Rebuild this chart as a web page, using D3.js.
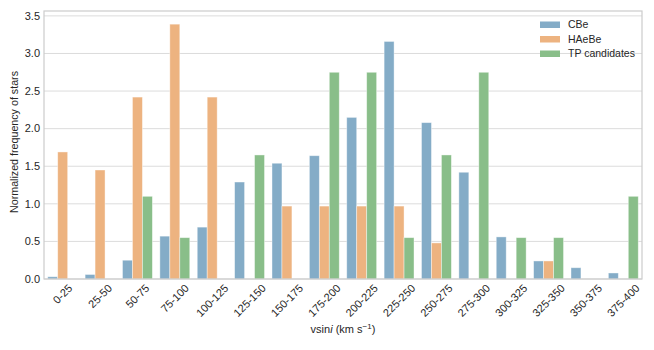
<!DOCTYPE html>
<html lang="en">
<head>
    <meta charset="UTF-8">
    <title>vsini distribution</title>
    <style>
        body { margin: 0; background: #fff; }
        text { font-family: "Liberation Sans", Arial, sans-serif; fill: #262626; }
    </style>
</head>
<body>

    <svg id="svg" width="654" height="350"></svg>

    <script src="https://d3js.org/d3.v7.min.js"></script>
    <script>
        const bins = ['0-25', '25-50', '50-75', '75-100', '100-125', '125-150', '150-175', '175-200',
            '200-225', '225-250', '250-275', '275-300', '300-325', '325-350', '350-375', '375-400']
        const seriesNames = ['CBe', 'HAeBe', 'TP candidates']
        const cbe = [0.03, 0.06, 0.25, 0.57, 0.69, 1.29, 1.54, 1.64, 2.15, 3.16, 2.08, 1.42, 0.56, 0.24, 0.15, 0.08]
        const haebe = [1.69, 1.45, 2.42, 3.39, 2.42, 0, 0.97, 0.97, 0.97, 0.97, 0.48, 0, 0, 0.24, 0, 0]
        const tp = [0, 0, 1.10, 0.55, 0, 1.65, 0, 2.75, 2.75, 0.55, 1.65, 2.75, 0.55, 0.55, 0, 1.10]
        const yTicks = [0, 0.5, 1.0, 1.5, 2.0, 2.5, 3.0, 3.5]

        const values = [cbe, haebe, tp]
        const colors = ['#84acc7', '#edb380', '#89be89']

        const plotL = 44, plotR = 642, plotT = 11, plotB = 279
        const svg = d3.select('#svg')

        const xScale = d3.scaleBand()
            .domain(bins)
            .range([plotL, plotR])
            .paddingInner(0.2)
            .paddingOuter(0.1)

        const xSub = d3.scaleBand()
            .domain(seriesNames)
            .range([0, xScale.bandwidth()])

        const yScale = d3.scaleLinear()
            .domain([0, 3.565])
            .range([plotB, plotT])

        // grid
        svg.append('g')
            .selectAll('line')
            .data(yTicks)
            .enter()
            .append('line')
            .attr('x1', plotL)
            .attr('x2', plotR)
            .attr('y1', d => yScale(d))
            .attr('y2', d => yScale(d))
            .attr('stroke', '#dcdcdc')
            .attr('stroke-width', 1)

        // bars
        const rows = bins.map((b, i) => seriesNames.map((s, j) => ({ bin: b, series: s, value: values[j][i], color: colors[j] })))
        svg.append('g')
            .selectAll('g')
            .data(rows)
            .enter()
            .append('g')
            .attr('transform', d => `translate(${xScale(d[0].bin)},0)`)
            .selectAll('rect')
            .data(d => d.filter(e => e.value > 0))
            .enter()
            .append('rect')
            .attr('x', d => xSub(d.series))
            .attr('width', xSub.bandwidth())
            .attr('y', d => yScale(d.value))
            .attr('height', d => yScale(0) - yScale(d.value))
            .attr('fill', d => d.color)
            .attr('stroke', 'rgba(255,255,255,0.5)')
            .attr('stroke-width', 0.8)

        // frame
        svg.append('rect')
            .attr('x', plotL)
            .attr('y', plotT)
            .attr('width', plotR - plotL)
            .attr('height', plotB - plotT)
            .attr('fill', 'none')
            .attr('stroke', '#cccccc')
            .attr('stroke-width', 1.2)

        // y axis labels
        svg.append('g')
            .selectAll('text')
            .data(yTicks)
            .enter()
            .append('text')
            .attr('x', 40)
            .attr('y', d => yScale(d))
            .attr('dy', '0.35em')
            .attr('text-anchor', 'end')
            .attr('font-size', 11)
            .text(d => d.toFixed(1))

        // x tick labels, rotated 45 around centre
        const xt = svg.append('g')
            .selectAll('text')
            .data(bins)
            .enter()
            .append('text')
            .attr('font-size', 11)
            .attr('text-anchor', 'middle')
            .attr('dy', '0.35em')
            .text(d => d)
        xt.each(function (d) {
            const L = this.getComputedTextLength()
            const cx = xScale(d) + xScale.bandwidth() / 2
            const cy = 283 + (L + 9) * 0.7071 / 2
            d3.select(this)
                .attr('x', cx)
                .attr('y', cy)
                .attr('transform', `rotate(-45,${cx},${cy})`)
        })

        // axis titles
        svg.append('text')
            .attr('transform', 'translate(18,142) rotate(-90)')
            .attr('text-anchor', 'middle')
            .attr('font-size', 10.7)
            .text('Normalized frequency of stars')

        const xl = svg.append('text')
            .attr('x', (plotL + plotR) / 2)
            .attr('y', 333)
            .attr('text-anchor', 'middle')
            .attr('font-size', 11)
        xl.append('tspan').text('vsin')
        xl.append('tspan').attr('font-style', 'italic').text('i')
        xl.append('tspan').text(' (km s')
        xl.append('tspan').attr('font-size', 8).attr('dy', -4).text('\u22121')
        xl.append('tspan').attr('dy', 4).text(')')

        // legend
        const lg = svg.append('g')
            .selectAll('g')
            .data(seriesNames)
            .enter()
            .append('g')
            .attr('transform', (d, i) => `translate(540,${24.5 + i * 14.5})`)
        lg.append('rect')
            .attr('x', 0)
            .attr('y', -3)
            .attr('width', 20)
            .attr('height', 6.5)
            .attr('fill', (d, i) => colors[i])
        lg.append('text')
            .attr('x', 28)
            .attr('dy', '0.35em')
            .attr('font-size', 10.5)
            .text(d => d)
    </script>
</body>
</html>
